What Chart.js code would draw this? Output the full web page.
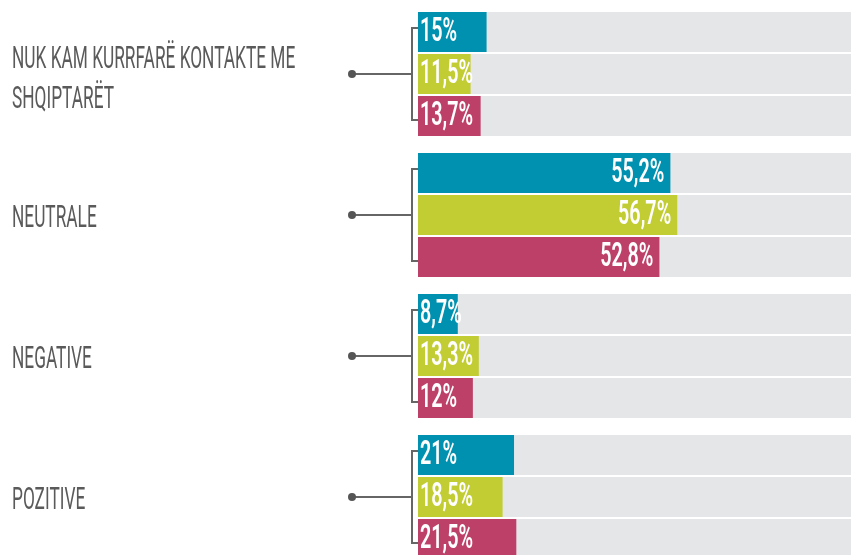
<!DOCTYPE html>
<html>
<head>
<meta charset="utf-8">
<script src="https://cdn.jsdelivr.net/npm/chart.js@4"></script>
<style>
  html, body { margin: 0; padding: 0; background: #fff; overflow: hidden; }
  #wrap { width: 851px; height: 568px; }
</style>
</head>
<body>
<div id="wrap"><canvas id="myChart"></canvas></div>
<script>
// answers per group, three survey waves each
const categories = [['NUK KAM KURRFARË KONTAKTE ME', 'SHQIPTARËT'], 'NEUTRALE', 'NEGATIVE', 'POZITIVE'];
const wave1 = [15, 55.2, 8.7, 21];
const wave2 = [11.5, 56.7, 13.3, 18.5];
const wave3 = [13.7, 52.8, 12, 21.5];

const colors = ['#0091b0', '#c2cc33', '#bd4068'];
const trackColor = '#e5e6e8';
const lineColor = '#666666';

const labelFont = '32px Roboto';
const valueFont = '600 33px Roboto';
const labelSqueeze = 0.54;
const valueSqueeze = 0.6;

function squeezedText(ctx, text, x, y, sx, align) {
  ctx.save();
  ctx.translate(x, y);
  ctx.scale(sx, 1);
  ctx.textAlign = align;
  ctx.fillText(text, 0, 0);
  ctx.restore();
}

// grey tracks behind every bar, full width of the chart area
const tracks = {
  id: 'tracks',
  beforeDatasetsDraw(chart) {
    const { ctx, chartArea } = chart;
    ctx.save();
    ctx.fillStyle = trackColor;
    chart.data.datasets.forEach((ds, i) => {
      chart.getDatasetMeta(i).data.forEach(bar => {
        const p = bar.getProps(['y', 'base', 'height'], true);
        ctx.fillRect(p.base, p.y - p.height / 2, chartArea.right - p.base, p.height);
      });
    });
    ctx.restore();
  }
};

// category names, bracket connectors and the value texts
const decorations = {
  id: 'decorations',
  afterDatasetsDraw(chart) {
    const { ctx, chartArea } = chart;
    const yScale = chart.scales.y;
    const first = chart.getDatasetMeta(0).data;
    const last = chart.getDatasetMeta(chart.data.datasets.length - 1).data;

    ctx.save();
    ctx.textBaseline = 'middle';

    categories.forEach((cat, i) => {
      const yc = yScale.getPixelForValue(i);
      const lines = Array.isArray(cat) ? cat : [cat];
      const lh = 40;
      const y0 = yc + 4 + (lines.length - 1) * 2 - (lines.length - 1) * lh / 2;
      ctx.fillStyle = '#5a5a5a';
      ctx.font = labelFont;
      lines.forEach((t, k) => squeezedText(ctx, t, 12, y0 + k * lh, labelSqueeze, 'left'));

      // bracket
      const top = first[i].y - 4;
      const bot = last[i].y + 4;
      const xv = chartArea.left - 6;
      ctx.strokeStyle = lineColor;
      ctx.lineWidth = 2;
      ctx.beginPath();
      ctx.moveTo(352, yc);
      ctx.lineTo(xv, yc);
      ctx.moveTo(chartArea.left, top);
      ctx.lineTo(xv, top);
      ctx.lineTo(xv, bot);
      ctx.lineTo(chartArea.left, bot);
      ctx.stroke();
      ctx.fillStyle = '#555555';
      ctx.beginPath();
      ctx.arc(352, yc, 4, 0, Math.PI * 2);
      ctx.fill();
    });

    ctx.fillStyle = '#ffffff';
    ctx.font = valueFont;
    chart.data.datasets.forEach((ds, i) => {
      chart.getDatasetMeta(i).data.forEach((bar, j) => {
        const v = ds.data[j];
        const text = String(v).replace('.', ',') + '%';
        const p = bar.getProps(['x', 'y', 'base'], true);
        if (v > 30) {
          squeezedText(ctx, text, p.x - 6, p.y + 1, valueSqueeze, 'right');
        } else {
          squeezedText(ctx, text, p.base + 2, p.y + 1, valueSqueeze, 'left');
        }
      });
    });
    ctx.restore();
  }
};

const ctx = document.getElementById('myChart');

new Chart(ctx, {
  type: 'bar',
  data: {
    labels: categories,
    datasets: [
      { data: wave1, backgroundColor: colors[0] },
      { data: wave2, backgroundColor: colors[1] },
      { data: wave3, backgroundColor: colors[2] }
    ]
  },
  options: {
    indexAxis: 'y',
    responsive: true,
    maintainAspectRatio: false,
    animation: false,
    categoryPercentage: 0.894,
    barPercentage: 0.952,
    layout: { padding: { left: 418, right: 0, top: 3.5, bottom: 0.5 } },
    scales: {
      x: { display: false, min: 0, max: 94.7 },
      y: { display: false }
    },
    plugins: {
      legend: { display: false },
      tooltip: { enabled: false }
    }
  },
  plugins: [tracks, decorations]
});
</script>
</body>
</html>
